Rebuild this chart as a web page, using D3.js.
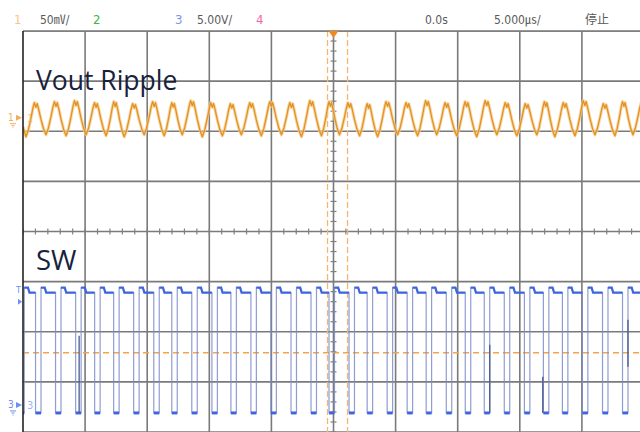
<!DOCTYPE html>
<html><head><meta charset="utf-8">
<script src="https://cdn.jsdelivr.net/npm/d3@7"></script>
<style>html,body{margin:0;padding:0;background:#fff;}svg{display:block}</style>
</head><body><svg id="c" width="640" height="432"></svg>
<script>
// ---------------- data ----------------
const gridTimes = [-25,-20,-15,-10,-5,0,5,10,15,20,25];      // µs (5 µs/div)
const gridDivs  = [-4,-3,-2,-1,0,1,2,3,4];                     // vertical divisions
const headerChannels = ["1","2","3","4"];
const headerScales   = ["50㎷/","5.00V/"];
const headerTime     = ["0.0s","5.000㎲/","停止"];
const traceLabels    = ["Vout Ripple","SW"];

// Ch1 (Vout ripple, mV) – trough times (µs) and per-cycle extremes
const rippleTroughT  = [-24.76,-23.15,-21.53,-19.92,-18.31,-16.85,-15.24,-13.63,-12.18,-10.56,-8.95,-7.42,-5.81,-4.19,-2.58,-0.97,0.48,2.10,3.55,5.16,6.77,8.31,9.92,11.53,13.15,14.76,16.37,17.82,19.44,21.05,22.66,24.11,25.69];
const rippleTroughMv = [-19,-17,-18,-17,-18,-19,-17,-18,-17,-19,-18,-17,-18,-17,-19,-18,-17,-18,-19,-17,-18,-17,-18,-19,-17,-18,-17,-19,-18,-17,-18,-17,-18];
const ripplePeakMv   = [15,16,17,15,16,14,16,15,17,15,14,15,16,15,17,16,15,14,16,15,17,15,16,17,15,14,16,15,17,14,16,15];
const rippleStartMv  = -9;
const rippleShapePhase = [0.12,0.25,0.35,0.42,0.50,0.56,0.64,0.75,0.88];
const rippleShapeLevel = [0.20,0.55,0.85,1.00,0.86,0.97,0.78,0.48,0.18];

// Ch3 (SW node, V) – edge times (µs)
const swRise = [-24.90,-23.55,-21.94,-20.32,-18.79,-17.26,-15.65,-14.03,-12.58,-10.97,-9.35,-7.82,-6.21,-4.60,-2.98,-1.37,0.08,1.69,3.15,4.76,6.37,7.90,9.52,11.05,12.58,14.19,15.81,17.34,18.87,20.48,22.10,23.71];
const swFall = [-23.99,-22.38,-20.76,-19.23,-17.70,-16.09,-14.47,-13.02,-11.41,-9.79,-8.26,-6.65,-5.04,-3.42,-1.81,-0.36,1.25,2.71,4.32,5.93,7.46,9.08,10.61,12.14,13.75,15.37,16.90,18.43,20.04,21.66,23.27,25.20];
const swHigh = 11.7, swHighSettle = 11.2, swLow = -0.8;
const swGlitchT    = [-20.48, 12.58, 16.85, 23.71];
const swGlitchFrom = [-0.8, -0.8, -0.8, 3.8];
const swGlitchTo   = [6.9, 6.0, 2.8, 8.5];

const cursorT  = [-0.48, 1.13];   // µs
const cursorV3 = 5.2;             // V on ch3
const ch1OffsetDiv = 2.27, ch3OffsetDiv = -3.46;

// ---------------- drawing ----------------
const svg = d3.select("#c");
const L = 23, R = 640, T = 31, B = 432;
const x = d3.scaleLinear().domain([-25,25]).range([23,644]);
const yDiv = d3.scaleLinear().domain([-4,4]).range([432,31]);
const y1 = v => yDiv(ch1OffsetDiv + v/50);
const y3 = v => yDiv(ch3OffsetDiv + v/5);

svg.append("defs").append("clipPath").attr("id","plot")
  .append("rect").attr("x",L).attr("y",T).attr("width",R-L).attr("height",B-T);
const g = svg.append("g").attr("clip-path","url(#plot)");

// grid
g.selectAll(".gx").data(gridTimes.slice(1)).join("line")
  .attr("x1",d=>x(d)).attr("x2",d=>x(d)).attr("y1",T).attr("y2",B)
  .attr("stroke","#7a7a7a").attr("stroke-width",1.6);
g.selectAll(".gy").data(gridDivs).join("line")
  .attr("x1",L).attr("x2",R).attr("y1",d=>yDiv(d)).attr("y2",d=>yDiv(d))
  .attr("stroke","#7a7a7a").attr("stroke-width",1.6);
// minor ticks on centre axes
const minorT = d3.range(-25,25.01,1);
g.selectAll(".mt").data(minorT).join("line")
  .attr("x1",d=>x(d)).attr("x2",d=>x(d)).attr("y1",yDiv(0)-3).attr("y2",yDiv(0)+3)
  .attr("stroke","#808080").attr("stroke-width",1.2);
const minorV = d3.range(-4,4.01,0.2);
g.selectAll(".mv").data(minorV).join("line")
  .attr("x1",x(0)-3).attr("x2",x(0)+3).attr("y1",d=>yDiv(d)).attr("y2",d=>yDiv(d))
  .attr("stroke","#808080").attr("stroke-width",1.2);

// cursors
g.selectAll(".cx").data(cursorT).join("line")
  .attr("x1",d=>x(d)).attr("x2",d=>x(d)).attr("y1",T).attr("y2",B)
  .attr("stroke","#f7b574").attr("stroke-width",1.3).attr("stroke-dasharray","6,3");
g.append("line").attr("x1",L).attr("x2",R).attr("y1",y3(cursorV3)).attr("y2",y3(cursorV3))
  .attr("stroke","#f5a24a").attr("stroke-width",1.6).attr("stroke-dasharray","6,4");

// ripple trace
const ripplePts = [[-25, rippleStartMv]];
for (let k=0;k<rippleTroughT.length;k++){
  ripplePts.push([rippleTroughT[k], rippleTroughMv[k]]);
  if (k < ripplePeakMv.length){
    const t0 = rippleTroughT[k], t1 = rippleTroughT[k+1];
    rippleShapePhase.forEach((p,i)=>{
      const base = p < 0.5 ? rippleTroughMv[k] : rippleTroughMv[k+1];
      ripplePts.push([t0 + p*(t1-t0), base + rippleShapeLevel[i]*(ripplePeakMv[k]-base)]);
    });
  }
}
const rLine = d3.line().x(d=>x(d[0])).y(d=>y1(d[1]));
g.append("path").attr("d",rLine(ripplePts)).attr("fill","none")
  .attr("stroke","#f5cd94").attr("stroke-width",3.2).attr("stroke-opacity",0.8).attr("stroke-linejoin","round");
g.append("path").attr("d",rLine(ripplePts)).attr("fill","none")
  .attr("stroke","#e3921f").attr("stroke-width",1.3).attr("stroke-linejoin","round");

// SW trace
const swPts = [[-25, swLow]];
const highSegs = [], lowSegs = [];
let lastFall = -25;
swRise.forEach((r,i)=>{
  lowSegs.push([lastFall, r]);
  swPts.push([r, swLow],[r, swHigh],[r+0.3, swHigh],[r+0.42, swHighSettle],[swFall[i], swHighSettle],[swFall[i], swLow]);
  highSegs.push([r, swFall[i]]);
  lastFall = swFall[i];
});
const sLine = d3.line().x(d=>x(d[0])).y(d=>y3(d[1]));
g.append("path").attr("d",sLine(swPts)).attr("fill","none")
  .attr("stroke","#7d8cc8").attr("stroke-width",1.2).attr("stroke-opacity",0.85);
// bright horizontal levels
g.selectAll(".hs").data(highSegs).join("path")
  .attr("d",d=>sLine([[d[0],swHigh],[d[0]+0.3,swHigh],[d[0]+0.42,swHighSettle],[d[1],swHighSettle]]))
  .attr("fill","none").attr("stroke","#3f66e0").attr("stroke-width",2.2);
g.selectAll(".ls").data(lowSegs).join("line")
  .attr("x1",d=>x(d[0])).attr("x2",d=>x(d[1])).attr("y1",y3(swLow)).attr("y2",y3(swLow))
  .attr("stroke","#3f66e0").attr("stroke-width",3);
g.selectAll(".gl").data(swGlitchT).join("line")
  .attr("x1",d=>x(d)).attr("x2",d=>x(d))
  .attr("y1",(d,i)=>y3(swGlitchFrom[i])).attr("y2",(d,i)=>y3(swGlitchTo[i]))
  .attr("stroke","#4a5a90").attr("stroke-width",1.3);

// borders
svg.append("line").attr("x1",L).attr("x2",R).attr("y1",T).attr("y2",T).attr("stroke","#777").attr("stroke-width",1.6);
svg.append("line").attr("x1",L).attr("x2",L).attr("y1",T).attr("y2",B).attr("stroke","#222").attr("stroke-width",1.6);

// trigger marker
svg.append("path").attr("d",`M${x(0)-5},${T} L${x(0)+5},${T} L${x(0)},${T+7} Z`).attr("fill","#f08a20");

// header
const hf = "'DejaVu Sans Condensed','DejaVu Sans','Noto Sans CJK SC',sans-serif";
const chColors = ["#f7c48c","#3cb83c","#7b93ee","#f06aa8"];
const chX = [14,93,175,256];
svg.selectAll(".ch").data(headerChannels).join("text")
  .attr("x",(d,i)=>chX[i]).attr("y",24).attr("fill",(d,i)=>chColors[i])
  .attr("font-family",hf).attr("font-size",13).text(d=>d);
const scX = [40,197];
svg.selectAll(".sc").data(headerScales).join("text")
  .attr("x",(d,i)=>scX[i]).attr("y",24).attr("fill","#5a5a5a")
  .attr("font-family",hf).attr("font-size",12).text(d=>d);
const tX = [425,494,585];
svg.selectAll(".tm").data(headerTime).join("text")
  .attr("x",(d,i)=>tX[i]).attr("y",24).attr("fill","#5a5a5a")
  .attr("font-family",(d,i)=>i==2?"'Noto Sans CJK SC',sans-serif":hf).attr("font-size",12).text(d=>d);

// trace labels
svg.append("text").attr("x",36).attr("y",90).attr("fill","#18223c")
  .attr("font-family","'Open Sans',sans-serif").attr("font-size",26.5).text(traceLabels[0]);
svg.append("text").attr("x",36).attr("y",270).attr("fill","#18223c")
  .attr("font-family","'Open Sans',sans-serif").attr("font-size",27.5).text(traceLabels[1]);

// channel markers
function marker(yy, color, label){
  svg.append("text").attr("x",8).attr("y",yy+3).attr("fill",color)
    .attr("font-family",hf).attr("font-size",10).text(label);
  svg.append("path").attr("d",`M16,${yy-3} L22,${yy} L16,${yy+3} Z`).attr("fill",color);
  svg.append("path").attr("d",`M10,${yy+6} L16,${yy+6} M11.5,${yy+8} L14.5,${yy+8} M12.5,${yy+10} L13.5,${yy+10}`)
    .attr("stroke",color).attr("stroke-width",1);
  svg.append("text").attr("x",27).attr("y",yy+4).attr("fill",color).attr("fill-opacity",0.7)
    .attr("font-family",hf).attr("font-size",11).text(label);
}
marker(y1(0), "#f2ad5c", "1");
marker(y3(0), "#6f8ef0", "3");
// trigger level marker
svg.append("text").attr("x",16).attr("y",y3(swHigh)+5).attr("fill","#6f8ef0")
  .attr("font-family",hf).attr("font-size",9).text("T");
svg.append("path").attr("d",`M18,${y3(swHigh)+11} L22,${y3(swHigh)+14} L18,${y3(swHigh)+17} Z`).attr("fill","#6f8ef0");
</script></body></html>
